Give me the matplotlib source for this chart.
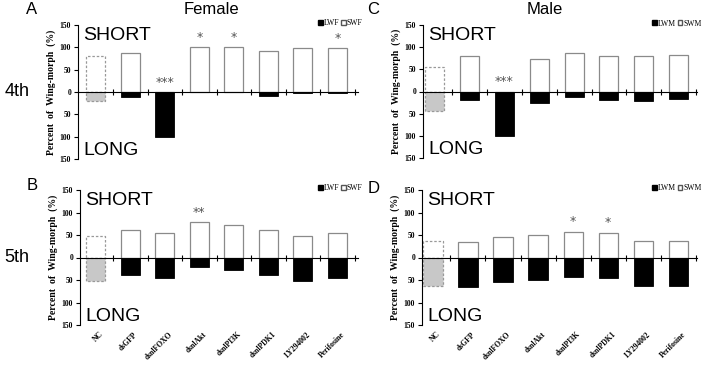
import matplotlib.pyplot as plt
from matplotlib.patches import Patch

# categories and values
groups = ["NC", "dsGFP", "dsnlFOXO", "dsnlAkt", "dsnlPI3K", "dsnlPDK1", "LY294002", "Perifosine"]

# A: female 4th instar
sw_a = [80, 88, 0, 100, 100, 91, 98, 98]
lw_a = [20, 12, 100, 0, 0, 9, 2, 2]
star_a = ["", "", "***", "*", "*", "", "", "*"]

# B: female 5th instar
sw_b = [48, 61, 54, 79, 73, 61, 48, 54]
lw_b = [52, 39, 46, 21, 27, 39, 52, 46]
star_b = ["", "", "", "**", "", "", "", ""]

# C: male 4th instar
sw_c = [55, 80, 0, 74, 87, 81, 79, 82]
lw_c = [45, 20, 100, 26, 13, 19, 21, 18]
star_c = ["", "", "***", "", "", "", "", ""]

# D: male 5th instar
sw_d = [36, 35, 46, 51, 57, 55, 37, 37]
lw_d = [64, 65, 54, 49, 43, 45, 63, 63]
star_d = ["", "", "", "", "*", "*", "", ""]

serif = "Liberation Serif"
sans = "Liberation Sans"

fig = plt.figure(figsize=(7.11, 3.68), dpi=100)


def px(l, t, r, b):
    W, H = 711, 368
    return [l / W, 1 - b / H, (r - l) / W, (b - t) / H]


def panel(rect, sw, lw, stars, xlim, leg, show_labels):
    ax = fig.add_axes(px(*rect))
    x = range(len(groups))
    w = 0.55
    for i in x:
        if i == 0:
            ax.bar(i, sw[i], w, facecolor="white", edgecolor="#999999", linestyle=(0, (2, 1.5)), linewidth=0.9)
            ax.bar(i, -lw[i], w, facecolor="#c8c8c8", edgecolor="#999999", linestyle=(0, (2, 1.5)), linewidth=0.9)
        else:
            ax.bar(i, sw[i], w, facecolor="white", edgecolor="#8a8a8a", linewidth=0.9)
            ax.bar(i, -lw[i], w, facecolor="black", edgecolor="black", linewidth=0.6)
        if stars[i]:
            ax.text(i, sw[i] + 22, stars[i], ha="center", va="center", fontsize=9, color="#555555")
    ax.set_xlim(*xlim)
    ax.set_ylim(-150, 150)
    ax.set_yticks([-150, -100, -50, 0, 50, 100, 150])
    ax.set_yticklabels(["150", "100", "50", "0", "50", "100", "150"], family=serif, fontweight="bold", fontsize=5.5)
    ax.spines["top"].set_visible(False)
    ax.spines["right"].set_visible(False)
    ax.spines["bottom"].set_position(("data", 0))
    ax.set_xticks([i + 0.5 for i in range(len(groups))])
    ax.set_xticklabels([])
    ax.tick_params(axis="x", direction="inout", length=4, width=0.8)
    ax.tick_params(axis="y", direction="out", length=3, width=0.8, pad=2)
    ax.set_ylabel("Percent  of  Wing-morph  (%)", family=serif, fontweight="bold", fontsize=7, labelpad=3)
    ax.text(0.02, 0.985, "SHORT", transform=ax.transAxes, family=sans, fontsize=14, va="top", ha="left")
    ax.text(0.02, 0.0, "LONG", transform=ax.transAxes, family=sans, fontsize=14, va="bottom", ha="left")
    handles = [Patch(facecolor="black", edgecolor="black", label=leg[0]),
               Patch(facecolor="white", edgecolor="#555555", label=leg[1])]
    ax.legend(handles=handles, loc="upper right", bbox_to_anchor=(1.03, 1.07), ncol=2, frameon=False,
              prop={"family": serif, "size": 5.5}, handlelength=0.6, handleheight=0.6,
              handletextpad=0.1, columnspacing=0.3, borderpad=0)
    if show_labels:
        for i, g in enumerate(groups):
            ax.text(i + 0.1, -0.04, g, transform=ax.get_xaxis_transform(), rotation=45,
                    rotation_mode="anchor", ha="right", va="top", family=serif,
                    fontweight="bold", fontsize=5.5)
    return ax


panel((78, 25, 358, 159), sw_a, lw_a, star_a, (-0.52, 7.6), ("LWF", "SWF"), False)
panel((80, 190, 358, 325), sw_b, lw_b, star_b, (-0.46, 7.6), ("LWF", "SWF"), True)
panel((423, 25, 697, 158), sw_c, lw_c, star_c, (-0.34, 7.53), ("LWM", "SWM"), False)
panel((422, 190, 697, 325), sw_d, lw_d, star_d, (-0.31, 7.53), ("LWM", "SWM"), True)

fig.text(32 / 711, 1 - 10 / 368, "A", family=sans, fontsize=12, ha="center", va="center")
fig.text(32 / 711, 1 - 186 / 368, "B", family=sans, fontsize=12, ha="center", va="center")
fig.text(373 / 711, 1 - 10 / 368, "C", family=sans, fontsize=12, ha="center", va="center")
fig.text(374 / 711, 1 - 188 / 368, "D", family=sans, fontsize=12, ha="center", va="center")
fig.text(211 / 711, 1 - 10 / 368, "Female", family=sans, fontsize=12, ha="center", va="center")
fig.text(545 / 711, 1 - 10 / 368, "Male", family=sans, fontsize=12, ha="center", va="center")
fig.text(17 / 711, 1 - 92 / 368, "4th", family=sans, fontsize=13, ha="center", va="center")
fig.text(17 / 711, 1 - 257 / 368, "5th", family=sans, fontsize=13, ha="center", va="center")

fig.savefig("out.png", dpi=100, facecolor="white")
